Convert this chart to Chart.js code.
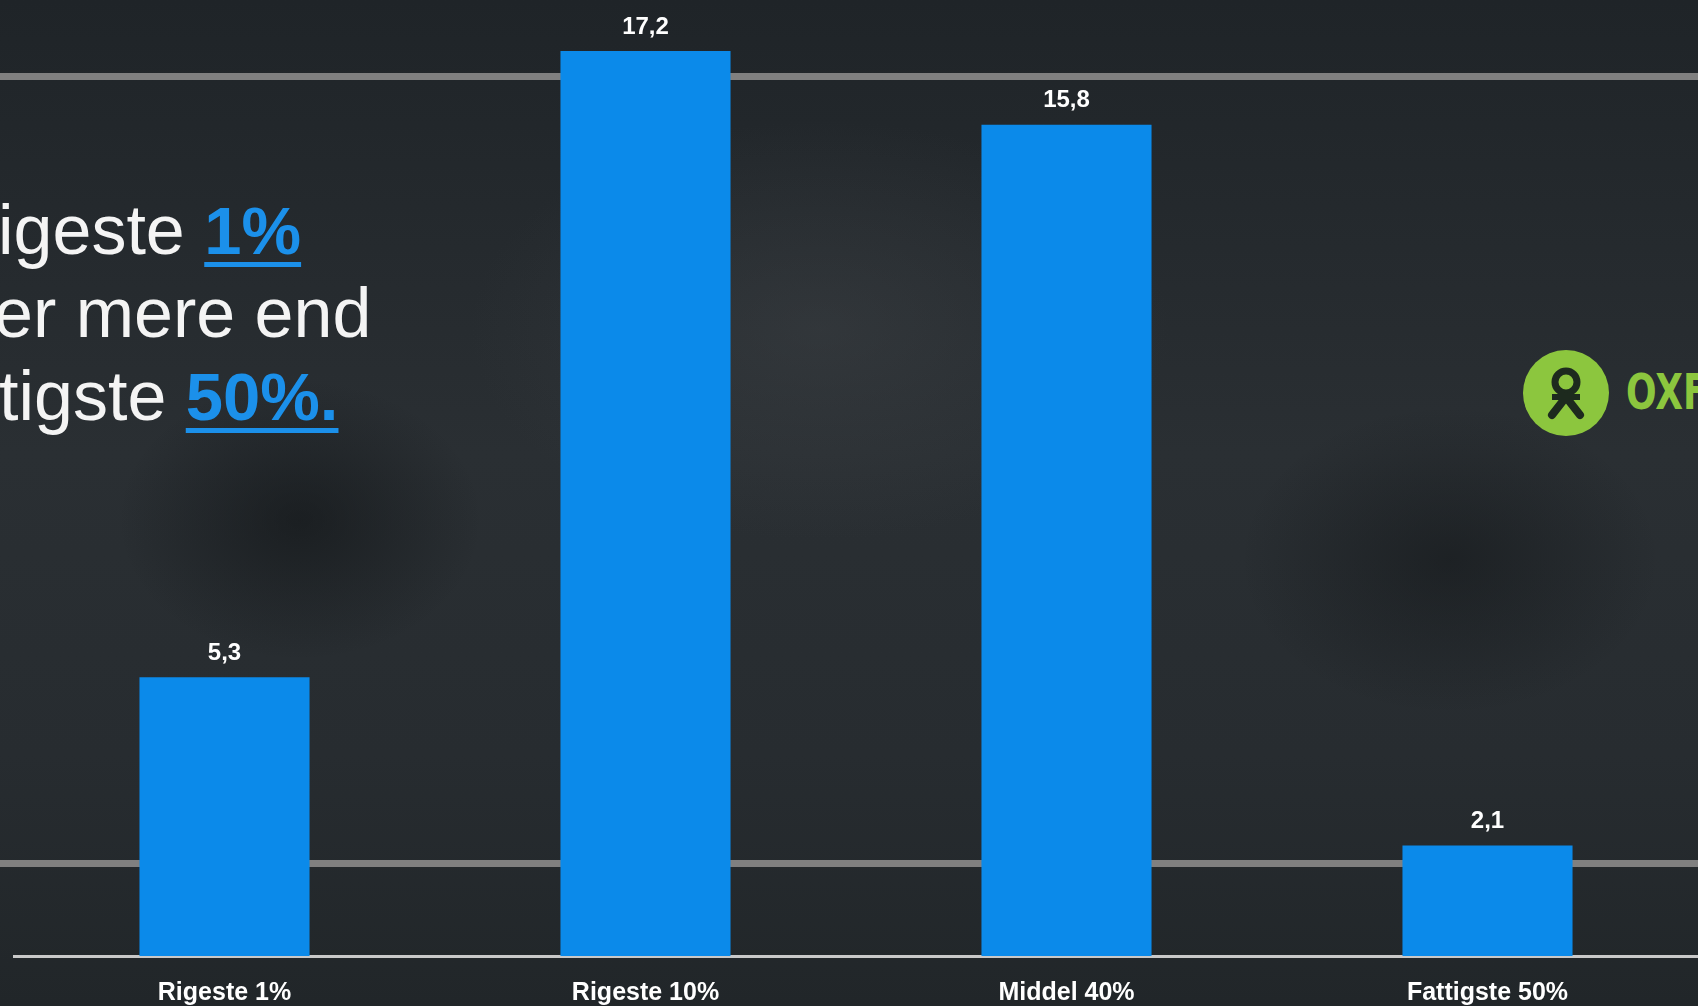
<!DOCTYPE html>
<html>
<head>
<meta charset="utf-8">
<script src="https://cdn.jsdelivr.net/npm/chart.js@4.4.0/dist/chart.umd.min.js"></script>
<style>
  html, body { margin: 0; padding: 0; overflow: hidden; }
  body {
    width: 1698px; height: 1006px; position: relative;
    background:
      linear-gradient(#808080, #808080) 0 73px / 100% 7px no-repeat,
      linear-gradient(#808080, #808080) 0 860px / 100% 7px no-repeat,
      radial-gradient(ellipse 260px 200px at 300px 520px, rgba(15,18,20,0.55), rgba(15,18,20,0) 70%),
      radial-gradient(ellipse 300px 220px at 1450px 560px, rgba(15,18,20,0.45), rgba(15,18,20,0) 70%),
      radial-gradient(ellipse 500px 300px at 820px 330px, rgba(70,74,78,0.35), rgba(70,74,78,0) 70%),
      linear-gradient(180deg, #1f2428 0%, #2a2f33 45%, #272c30 75%, #212629 100%);
  }
  #wrap { position: absolute; left: 0; top: 0; width: 1698px; height: 1024px; }
  .big {
    position: absolute; left: 0; color: #f4f4f4; white-space: nowrap;
    font-family: "Liberation Sans", Arial, sans-serif; font-size: 70px; line-height: 70px;
  }
  .big span { color: #1b90ea; font-weight: bold; font-size: 67px; text-decoration: underline; text-decoration-thickness: 5px; text-underline-offset: 8px; }
  #logo { position: absolute; left: 1522px; top: 349px; width: 88px; height: 88px; }
  #oxf {
    position: absolute; left: 1626px; top: 362px; color: #8cc63e;
    font-family: "DejaVu Sans Condensed", "DejaVu Sans", sans-serif; font-weight: bold;
    font-size: 50px; line-height: 60px; transform: scaleX(0.8); transform-origin: left;
  }
</style>
</head>
<body>
<div class="big" style="top:195px; left:-2px">igeste <span>1%</span></div>
<div class="big" style="top:278px; left:-6px">er mere end</div>
<div class="big" style="top:361px; left:-1px">tigste <span>50%.</span></div>
<svg id="logo" viewBox="0 0 88 88">
  <circle cx="44" cy="44" r="43" fill="#8cc63e"/>
  <circle cx="44" cy="33" r="11" fill="none" stroke="#1d2a1e" stroke-width="7"/>
  <path d="M30 66 L44 48 L58 66" fill="none" stroke="#1d2a1e" stroke-width="8" stroke-linecap="round"/>
  <path d="M30 48 L58 48" stroke="#1d2a1e" stroke-width="6"/>
</svg>
<div id="oxf">OXFAM</div>
<div id="wrap"><canvas id="chart"></canvas></div>
<script>
// values
const categories = ["Rigeste 1%", "Rigeste 10%", "Middel 40%", "Fattigste 50%"];
const shares = [5.3, 17.2, 15.8, 2.1];

const barColor = "#0b8aea";

// value labels above the bars, Danish decimal comma
const valueLabels = {
  id: "valueLabels",
  afterDatasetsDraw(chart) {
    const ctx = chart.ctx;
    const meta = chart.getDatasetMeta(0);
    ctx.save();
    ctx.fillStyle = "#ffffff";
    ctx.font = "bold 24px 'Liberation Sans', Arial, sans-serif";
    ctx.textAlign = "center";
    ctx.textBaseline = "bottom";
    meta.data.forEach((bar, i) => {
      ctx.fillText(String(shares[i]).replace(".", ","), bar.x, bar.y - 12);
    });
    ctx.restore();
  }
};

window.onload = function () {
  const ctx = document.getElementById("chart").getContext("2d");
  new Chart(ctx, {
    type: "bar",
    data: {
      labels: categories,
      datasets: [{
        data: shares,
        backgroundColor: barColor,
        borderWidth: 0,
        categoryPercentage: 1.0,
        barPercentage: 0.404,
      }],
    },
    options: {
      responsive: true,
      maintainAspectRatio: false,
      animation: false,
      layout: { padding: { left: 14, right: 0, top: 9, bottom: 2 } },
      plugins: { legend: { display: false }, tooltip: { enabled: false } },
      scales: {
        x: {
          grid: { display: false },
          border: { display: true, color: "#c9c9c9", width: 3 },
          ticks: {
            color: "#ffffff",
            padding: 14,
            font: { family: "'Liberation Sans', Arial, sans-serif", size: 25, weight: "bold" },
          },
        },
        y: { display: false, min: 0, max: 18 },
      },
    },
    plugins: [valueLabels],
  });
};
</script>
</body>
</html>
